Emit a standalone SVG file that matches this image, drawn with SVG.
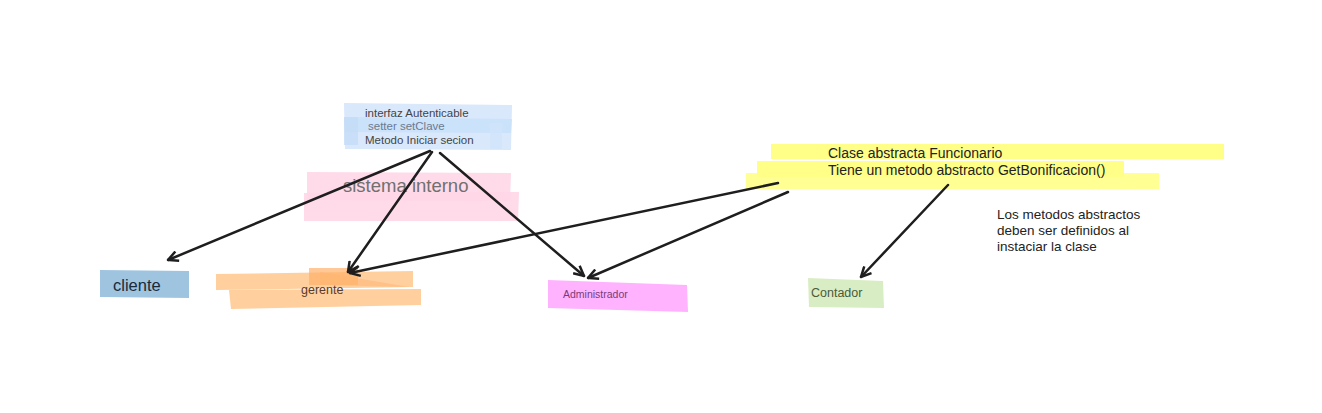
<svg xmlns="http://www.w3.org/2000/svg" width="1322" height="413" viewBox="0 0 1322 413">
<style>
text{font-family:"Liberation Sans",Arial,sans-serif}
.edge{stroke:#1e1e1e;stroke-width:2.5;fill:none;stroke-linecap:round}
</style>
<defs>
<marker id="arr" viewBox="0 0 12 12" refX="11" refY="6" markerWidth="12" markerHeight="12" markerUnits="userSpaceOnUse" orient="auto">
<path d="M1,1 L11,6 L1,11" fill="none" stroke="#1e1e1e" stroke-width="2.5" stroke-linejoin="miter"/>
</marker>
</defs>
<rect width="1322" height="413" fill="#fff"/>
<g id="interfaz">
<polygon points="344,103 512,105 511,150 345,149" fill="#dae8fc"/>
<polygon points="344,117 512,119 511,133 345,132" fill="#c7e0fa" opacity="0.8"/>
<rect x="344" y="117" width="14" height="28" fill="#c4dcf7" opacity="0.8"/>
<rect x="490" y="123" width="12" height="26" fill="#cfe3fa" opacity="0.8"/>
<text x="365" y="117" font-size="11.5" fill="#444">interfaz Autenticable</text>
<text x="368" y="130" font-size="11.5" fill="#6c7a90">setter setClave</text>
<text x="365" y="144" font-size="11.5" fill="#444">Metodo Iniciar secion</text>
</g>
<g id="sistema">
<polygon points="307,172 511,173 510,201 307,200" fill="#ffd6e7" opacity="0.9"/>
<polygon points="304,193 519,192 518,221 304,221" fill="#ffd6e7" opacity="0.9"/>
<text x="343" y="192" font-size="18.5" fill="#707070">sistema interno</text>
</g>
<g id="cliente">
<polygon points="100,270 189,271 189,298 100,297" fill="#9fc4e0"/>
<text x="113" y="291" font-size="16.5" fill="#1a2a3a">cliente</text>
</g>
<g id="gerente">
<polygon points="216,274 413,271 413,287 216,290" fill="#ffcc99" opacity="0.95"/>
<polygon points="229,290 421,289 421,305 231,309" fill="#ffcc99" opacity="0.95"/>
<polygon points="309,268 358,268 358,285 309,285" fill="#ffb06a" opacity="0.7"/>
<polygon points="320,272 409,287 320,285" fill="#ffb370" opacity="0.5"/>
<text x="301" y="294" font-size="12.5" fill="#5a3a2a">gerente</text>
</g>
<g id="administrador">
<polygon points="548,280 687,285 688,312 548,308" fill="#ffb3ff"/>
<text x="563" y="298" font-size="10.5" fill="#7a3a7a">Administrador</text>
</g>
<g id="contador">
<polygon points="808,278 883,281 884,308 809,307" fill="#d9edc4"/>
<text x="811" y="297" font-size="12.5" fill="#4a5a3a">Contador</text>
</g>
<g id="funcionario">
<rect x="771" y="144" width="453" height="15" fill="#ffff88"/>
<rect x="757" y="161" width="367" height="16" fill="#ffff88"/>
<rect x="746" y="173" width="413" height="16" fill="#ffff88" opacity="0.9"/>
<text x="828" y="158" font-size="14" fill="#222">Clase abstracta Funcionario</text>
<text x="828" y="175" font-size="14" fill="#222">Tiene un metodo abstracto GetBonificacion()</text>
</g>
<g id="nota">
<text font-size="13.5" fill="#222"><tspan x="997" y="219">Los metodos abstractos</tspan><tspan x="997" y="235">deben ser definidos al</tspan><tspan x="997" y="251">instaciar la clase</tspan></text>
</g>
<g id="connectors">
<line class="edge" x1="430" y1="151" x2="168" y2="260" marker-end="url(#arr)"/>
<line class="edge" x1="432" y1="152" x2="348" y2="272" marker-end="url(#arr)"/>
<line class="edge" x1="440" y1="153" x2="584" y2="276" marker-end="url(#arr)"/>
<line class="edge" x1="778" y1="183" x2="350" y2="273" marker-end="url(#arr)"/>
<line class="edge" x1="788" y1="192" x2="588" y2="278" marker-end="url(#arr)"/>
<line class="edge" x1="948" y1="185" x2="861" y2="277" marker-end="url(#arr)"/>
</g>
</svg>
